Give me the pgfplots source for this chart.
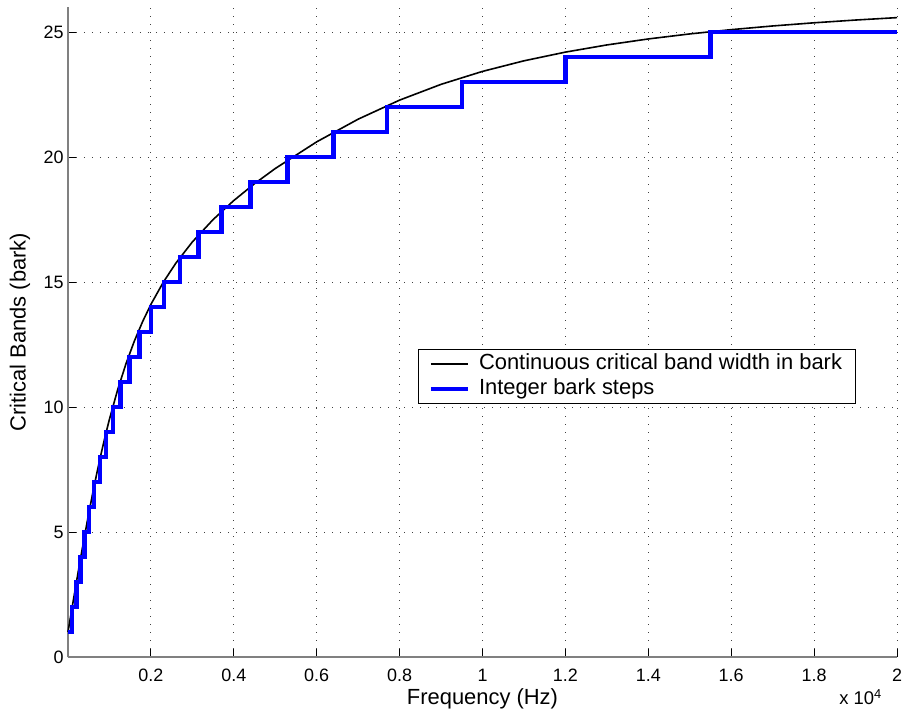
\documentclass[border=0pt]{standalone}
\usepackage{fontspec}
\setmainfont{Liberation Sans}
\usepackage{pgfplots}
\pgfplotsset{compat=1.18}
\definecolor{mblue}{RGB}{0,0,255}
\begin{document}
\begin{tikzpicture}
\useasboundingbox (-68bp,-56bp) rectangle (834bp,657bp);
\begin{axis}[
  at={(0,0)}, anchor=south west,
  scale only axis, width=829bp, height=650bp,
  xmin=0, xmax=20000, ymin=0, ymax=26,
  axis x line*=bottom, axis y line*=left,
  axis line style={black!50, line width=1.1bp},
  xtick={2000,4000,6000,8000,10000,12000,14000,16000,18000,20000},
  xticklabels={0.2,0.4,0.6,0.8,1,1.2,1.4,1.6,1.8,2},
  ytick={0,5,10,15,20,25},
  scaled x ticks=false,
  tick align=inside, major tick length=8bp,
  tick style={black, line width=0.8bp},
  grid=major,
  major grid style={black!75, line width=0.9bp, dash pattern=on 0.9bp off 7.1bp},
  /pgf/number format/assume math mode=true,
  xticklabel style={font=\fontsize{18}{21}\selectfont, anchor=center, yshift=-18bp},
  yticklabel style={font=\fontsize{18}{21}\selectfont, anchor=east, xshift=-1bp},
  every axis x label/.style={at={([yshift=-42bp]axis description cs:0.5,0)}, anchor=center, font=\fontsize{22}{26}\selectfont},
  every axis y label/.style={at={([xshift=-48bp]axis description cs:0,0.5)}, anchor=center, rotate=90, font=\fontsize{22}{26}\selectfont},
  xlabel={Frequency (Hz)},
  ylabel={Critical Bands (bark)},
  legend style={at={(rel axis cs:0.4222,0.4738)}, anchor=north west, draw=black, line width=1bp,
    font=\fontsize{22}{26}\selectfont, inner xsep=10bp, inner ysep=2bp, row sep=0bp, column sep=6bp,
    nodes={inner xsep=3bp, inner ysep=1bp, text height=17bp, text depth=6bp}},
  legend cell align=left,
  legend image code/.code={\draw[#1] (0bp,0bp) -- (37bp,0bp);},
  clip=false,
]
\addplot[black, line width=1.6bp] coordinates {
(0,1.000)(50,1.494)(100,1.987)(200,2.964)(300,3.920)(400,4.847)(500,5.737)
(600,6.584)(700,7.386)(800,8.141)(900,8.849)(1000,9.511)(1200,10.702)
(1400,11.735)(1600,12.633)(1800,13.416)(2000,14.104)(2300,14.993)(2600,15.749)
(3000,16.602)(3500,17.496)(4000,18.259)(4500,18.932)(5000,19.539)(6000,20.606)
(7000,21.513)(8000,22.275)(9000,22.906)(10000,23.424)(11000,23.847)(12000,24.195)
(13000,24.482)(14000,24.722)(15000,24.923)(16000,25.094)(17000,25.241)
(18000,25.368)(19000,25.478)(20000,25.575)
};
\addlegendentry{Continuous critical band width in bark}
\addplot[mblue, line width=4.5bp, const plot mark left] coordinates {
(0,1)(100,2)(200,3)(300,4)(400,5)(510,6)(630,7)(770,8)(920,9)(1080,10)
(1270,11)(1480,12)(1720,13)(2000,14)(2320,15)(2700,16)(3150,17)(3700,18)
(4400,19)(5300,20)(6400,21)(7700,22)(9500,23)(12000,24)(15500,25)(20000,25)
};
\addlegendentry{Integer bark steps}
\node[anchor=east, font=\fontsize{18.5}{21}\selectfont, inner sep=0pt] at ([xshift=-15bp,yshift=-40bp]rel axis cs:1,0) {x 10\textsuperscript{4}};
\end{axis}
\end{tikzpicture}
\end{document}
